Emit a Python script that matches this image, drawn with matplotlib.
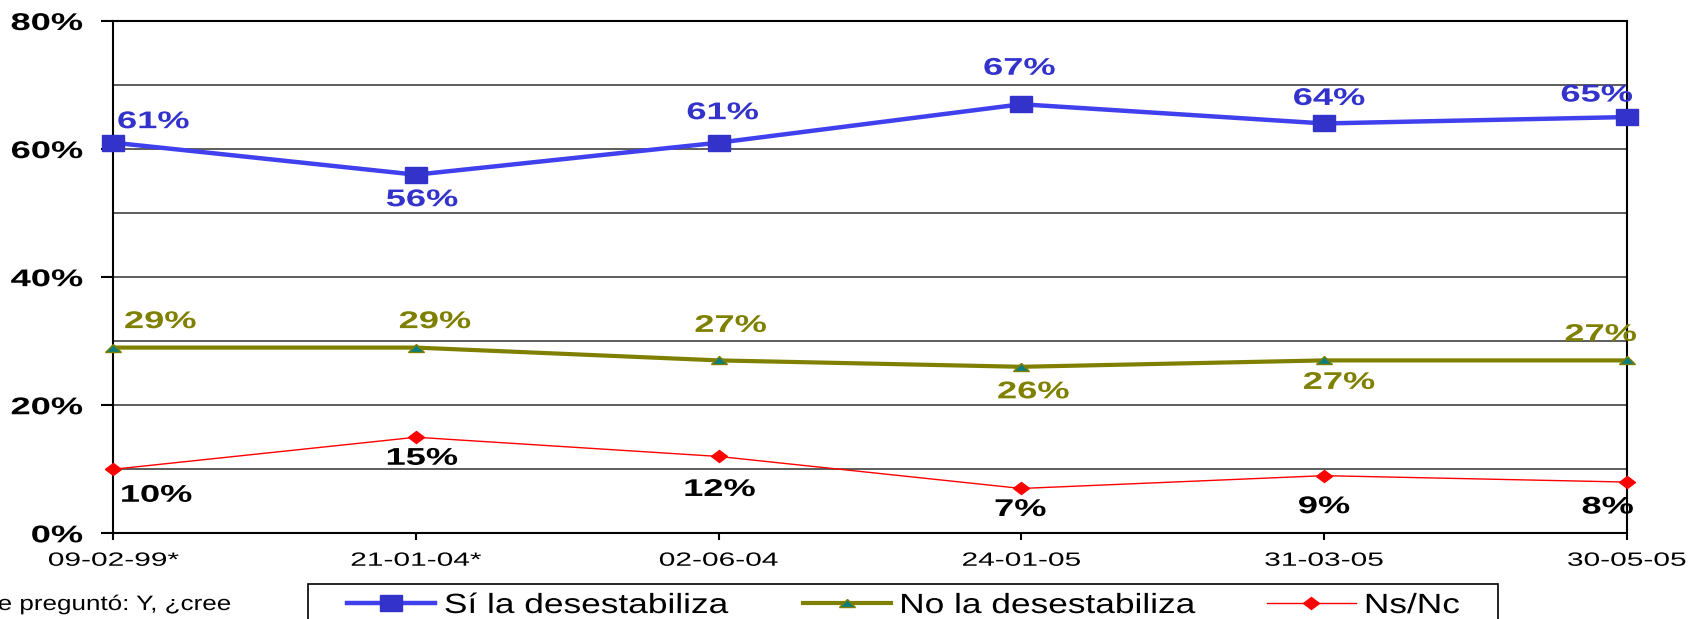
import matplotlib
matplotlib.use("Agg")
import matplotlib.pyplot as plt
from matplotlib import font_manager
from matplotlib.markers import MarkerStyle
from matplotlib.patches import Rectangle
from matplotlib.patheffects import AbstractPathEffect
from matplotlib.transforms import Affine2D

# datos
fechas = ["09-02-99*", "21-01-04*", "02-06-04", "24-01-05", "31-03-05", "30-05-05"]
si_desestabiliza = [61, 56, 61, 67, 64, 65]
no_desestabiliza = [29, 29, 27, 26, 27, 27]
ns_nc = [10, 15, 12, 7, 9, 8]
nombres = ["Sí la desestabiliza", "No la desestabiliza", "Ns/Nc"]
y_ticks = [0, 20, 40, 60, 80]
y_labels = ["0%", "20%", "40%", "60%", "80%"]
nota = "e preguntó: Y, ¿cree"

# desplazamiento (px) de cada etiqueta respecto a su punto
off_si = [(40, 21), (6, -25), (4, 30), (-2, 36), (5, 25), (-30, 22)]
off_no = [(47, 26), (19, 26), (12, 35), (12, -25), (15, -22), (-26, 26)]
off_ns = [(43, -26), (6, -21), (1, -33), (-1, -21), (0, -31), (-19, -25)]

plt.rcParams['font.family'] = ['Liberation Sans', 'DejaVu Sans']


class Stretch(AbstractPathEffect):
    # estira el texto en horizontal (la imagen original esta ensanchada)
    def __init__(self, sx, anchor='center'):
        super().__init__()
        self.sx = sx
        self.anchor = anchor

    def draw_path(self, renderer, gc, tpath, affine, rgbFace=None):
        ext = tpath.get_extents(affine)
        x0 = {'left': ext.x0, 'right': ext.x1, 'center': (ext.x0 + ext.x1) / 2}[self.anchor]
        t = affine + Affine2D().translate(-x0, 0).scale(self.sx, 1).translate(x0, 0)
        renderer.draw_path(gc, tpath, t, rgbFace)


W, H = 1688, 619
fig = plt.figure(figsize=(W / 100, H / 100), dpi=100)
ax = fig.add_axes([113.3 / W, 1 - 533.3 / H, 1513.4 / W, 512.3 / H])

x = list(range(len(fechas)))
sq = MarkerStyle('s', transform=Affine2D().scale(1.38, 1))
tri = MarkerStyle('^', transform=Affine2D().scale(1.4, 0.8))
dia = MarkerStyle('D', transform=Affine2D().scale(1.4, 1))

l1, = ax.plot(x, si_desestabiliza, color='#4040ee', lw=3.2, marker=sq, ms=11.3,
              mfc='#3333cc', mec='#3333cc', clip_on=False, zorder=5)
l2, = ax.plot(x, no_desestabiliza, color='#808000', lw=3, marker=tri, ms=8,
              mfc='#0b7d7d', mec='#808000', mew=1, clip_on=False, zorder=4)
l3, = ax.plot(x, ns_nc, color='#ff0000', lw=1, marker=dia, ms=6,
              mfc='#ff0000', mec='#ff0000', clip_on=False, zorder=4)

for serie, offs, col in [(si_desestabiliza, off_si, '#3333cc'),
                         (no_desestabiliza, off_no, '#808000'),
                         (ns_nc, off_ns, 'black')]:
    for xi, v, (dx, dy) in zip(x, serie, offs):
        ax.annotate(f"{v}%", (xi, v), xytext=(dx, dy), textcoords='offset pixels',
                    ha='center', va='center', fontsize=17.4, fontweight='bold',
                    color=col, path_effects=[Stretch(1.5)], zorder=6)

ax.set_xlim(0, 5)
ax.set_ylim(0, 80)
ax.set_xticks(x)
ax.set_xticklabels(fechas)
ax.set_yticks(y_ticks)
ax.set_yticklabels(y_labels)
ax.set_yticks([10, 30, 50, 70], minor=True)
ax.grid(axis='y', which='both', color='#303030', lw=1.1)
ax.set_axisbelow(True)
for s in ax.spines.values():
    s.set_linewidth(1.5)
    s.set_color('black')

ax.tick_params(axis='x', length=5, width=1.5, pad=9, labelsize=13.8)
ax.tick_params(axis='y', which='major', length=8.4, width=1.5, pad=13.5, labelsize=17.4)
ax.tick_params(axis='y', which='minor', length=0)
for t in ax.get_xticklabels():
    t.set_path_effects([Stretch(1.56)])
for t in ax.get_yticklabels():
    t.set_fontweight('bold')
    t.set_path_effects([Stretch(1.5, 'right')])

# leyenda
leg = fig.legend([l1, l2, l3], nombres, loc='center left',
                 bbox_to_anchor=(347 / W, 1 - 606 / H), ncol=3, frameon=False,
                 borderpad=0, borderaxespad=0, handlelength=3.18, handletextpad=0.32,
                 columnspacing=4.85, fontsize=20)
for t in leg.get_texts():
    t.set_path_effects([Stretch(1.27, 'left')])
fig.add_artist(Rectangle((308 / W, 1 - 640 / H), 1190 / W, 56 / H, fill=False,
                         ec='black', lw=1.2, transform=fig.transFigure))

# nota (cortada a la izquierda)
nombres_fuentes = {f.name for f in font_manager.fontManager.ttflist}
if 'Liberation Sans Narrow' in nombres_fuentes:
    fig.text(231 / W, 1 - 610 / H, nota, ha='right', va='baseline', fontsize=15,
             family=['Liberation Sans Narrow', 'DejaVu Sans'],
             path_effects=[Stretch(1.5, 'right')])
else:
    fig.text(231 / W, 1 - 610 / H, nota, ha='right', va='baseline', fontsize=15,
             path_effects=[Stretch(1.25, 'right')])

fig.savefig("out.png", dpi=100)
